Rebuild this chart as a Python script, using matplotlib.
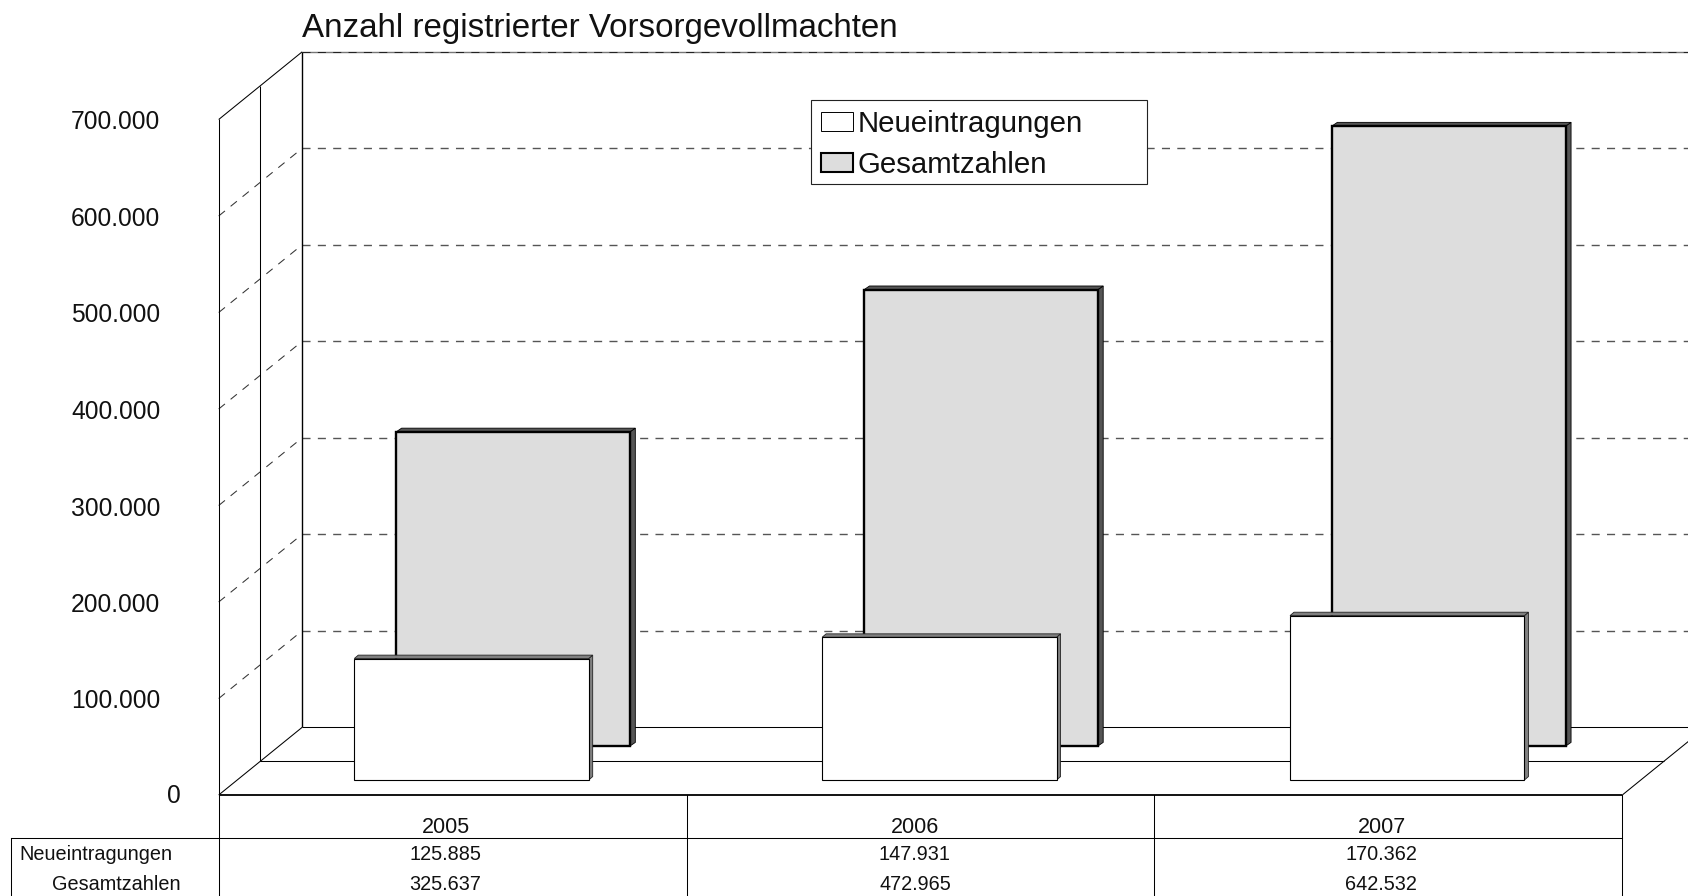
import matplotlib
matplotlib.use("Agg")
import matplotlib.pyplot as plt
from matplotlib.patches import Patch, Rectangle
from matplotlib.transforms import Affine2D, ScaledTranslation

plt.rcParams['font.family'] = ['Liberation Sans', 'DejaVu Sans']
plt.rcParams['lines.scale_dashes'] = False

title = "Anzahl registrierter Vorsorgevollmachten"
years = ["2005", "2006", "2007"]
neu = [125885, 147931, 170362]
ges = [325637, 472965, 642532]
neu_labels = ["125.885", "147.931", "170.362"]
ges_labels = ["325.637", "472.965", "642.532"]
yticks = [0, 100000, 200000, 300000, 400000, 500000, 600000, 700000]
ytick_labels = ["0", "100.000", "200.000", "300.000", "400.000", "500.000", "600.000", "700.000"]

W, H = 1688, 896
fig = plt.figure(figsize=(W / 100, H / 100), dpi=100, facecolor="white")
L, R, B, T = 218.7, 1622.3, 795.0, 119.5
ax = fig.add_axes([L / W, (H - B) / H, (R - L) / W, (B - T) / H])
ax.set_xlim(0, 3)
ax.set_ylim(0, 700000)
for s in ax.spines.values():
    s.set_visible(False)
ax.patch.set_visible(False)

px = Affine2D().scale(1 / W, -1 / H).translate(0, 1) + fig.transFigure
XU = (R - L) / 3          # pixels per category
YU = (B - T) / 700000     # pixels per unit value
DX = 83.5 / XU            # wall depth
DY = 67.7 / YU
LW = 0.75
DASH = (0, (5.8, 5.25))


def line(xs, ys, lw=LW, color="black", ls="-", z=2):
    ax.plot(xs, ys, color=color, lw=lw, ls=ls, clip_on=False, zorder=z,
            solid_capstyle="butt", dash_capstyle="butt")


# walls and floor
xmax = (W + 5 - L) / XU
for v in yticks[1:]:
    if v == 700000:
        line([DX, xmax], [v + DY, v + DY], color="#777777", lw=1.0, z=1)
        line([DX, xmax], [v + DY, v + DY], color="#222222", ls=DASH, z=1.1)
    else:
        line([DX, xmax], [v + DY, v + DY], color="#555555", lw=1.0, ls=DASH, z=1.1)
        line([0, DX], [v, v + DY], color="#333333", ls=DASH, z=1.1)
line([0, 0], [0, 700000])
line([DX / 2, DX / 2], [DY / 2, 700000 + DY / 2])
line([DX, DX], [DY, 700000 + DY], lw=1.0)
line([0, DX], [700000, 700000 + DY])
line([0, DX], [0, DY])
line([0, 3], [0, 0], lw=1.3, z=3)
line([DX / 2, 3 + DX / 2], [DY / 2, DY / 2])
line([DX, xmax], [DY, DY])
line([3, 3 + DX], [0, DY])


def bar3d(vals, offset, width, base, depth_x, depth_y, fc, lw, side, side_ec):
    for i, v in enumerate(vals):
        x0 = i + offset - width / 2
        x1 = i + offset + width / 2
        z = 4 if fc == "#dddddd" else 6
        ax.bar(i + offset, v, width, bottom=base, color=fc, edgecolor="black",
               linewidth=lw, zorder=z + 0.5, clip_on=False)
        ax.fill([x1, x1 + depth_x, x1 + depth_x, x1],
                [base, base + depth_y, base + v + depth_y, base + v],
                fc=side, ec=side_ec, lw=0.6, zorder=z, clip_on=False)
        ax.fill([x0, x0 + depth_x, x1 + depth_x, x1],
                [base + v, base + v + depth_y, base + v + depth_y, base + v],
                fc=side, ec=side_ec, lw=0.6, zorder=z, clip_on=False)


bar3d(ges, 0.6294, 0.4995, 49.0 / YU, 5.3 / XU, 3.6 / YU, "#dddddd", 1.7, "#555555", "black")
bar3d(neu, 0.5403, 0.501, 15.0 / YU, 4.0 / XU, 3.4 / YU, "white", 0.8, "#808080", "#222222")

# value axis
ax.set_yticks(yticks, ytick_labels, fontsize=17.7, color="#111111")
ax.tick_params(axis="y", length=0, pad=42)
for i, tick in enumerate(ax.yaxis.get_major_ticks()):
    lab = tick.label1
    shift_x = 20 / 100 if i == 0 else 0
    shift_y = 1.5 / 100 if i == 0 else -0.5 / 100
    lab.set_transform(lab.get_transform() + ScaledTranslation(shift_x, shift_y, fig.dpi_scale_trans))
# category axis
ax.set_xticks([0.486, 1.488, 2.486], years, fontsize=15.5, color="#111111")
ax.tick_params(axis="x", length=0, pad=16)

# data table
table_x = [445, 915, 1381]
for x_val, a, b in zip(table_x, neu_labels, ges_labels):
    ax.text(x_val, 855, a, transform=px, ha="center", va="center", fontsize=14.3, color="#111111")
    ax.text(x_val, 885, b, transform=px, ha="center", va="center", fontsize=14.3, color="#111111")
ax.text(19.6, 855, "Neueintragungen", transform=px, ha="left", va="center", fontsize=14.3, color="#111111")
ax.text(52, 885, "Gesamtzahlen", transform=px, ha="left", va="center", fontsize=14.3, color="#111111")
for c in range(4):
    ax.plot([c, c], [-(H - B) / YU - 2, 0], color="black", lw=LW, clip_on=False, zorder=2)
ax.plot([11.2, R], [838.2, 838.2], transform=px, color="black", lw=LW, clip_on=False)
ax.plot([11.2, 11.2], [838.2, H], transform=px, color="black", lw=LW, clip_on=False)

# title
ax.text(302.5, 29, title, transform=px, ha="left", va="center", fontsize=23.85, color="#111111")

# legend
handles = [Patch(fc="white", ec="black", lw=0.7, label="Neueintragungen"),
           Patch(fc="#dddddd", ec="black", lw=1.5, label="Gesamtzahlen")]
x0, x1, y0, y1 = 811.3, 1147.3, 99.7, 184.0
ax.add_patch(Rectangle((x0, y0), x1 - x0, y1 - y0, transform=px, fc="white", ec="#222222",
                       lw=0.8, clip_on=False, zorder=9))
leg = ax.legend(handles=handles, loc="upper left", mode="expand",
                bbox_to_anchor=(x0 / W, 1 - y1 / H, (x1 - x0) / W, (y1 - y0) / H),
                bbox_transform=fig.transFigure, fontsize=21.2, frameon=False,
                borderaxespad=0, borderpad=0.34, labelspacing=0.44, handlelength=1.08,
                handleheight=0.6, handletextpad=0.15, labelcolor="#111111")
leg.set_zorder(10)

fig.savefig("out.png", dpi=100)
